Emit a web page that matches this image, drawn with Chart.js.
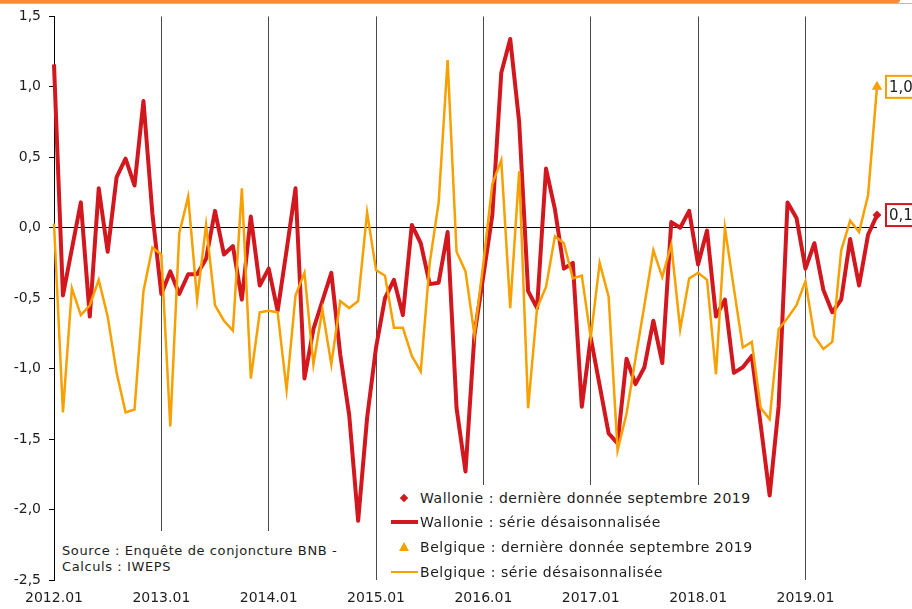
<!DOCTYPE html>
<html>
<head>
<meta charset="utf-8">
<script src="https://cdn.jsdelivr.net/npm/chart.js@4.4.1/dist/chart.umd.min.js"></script>
<style>
  html, body { margin: 0; padding: 0; background: #fff; }
  #wrap { position: relative; width: 912px; height: 609px; overflow: hidden; font-family: 'DejaVu Sans', sans-serif; color: #1d1d1b; }
  #topbar { position: absolute; left: 0; top: 0; width: 900px; height: 3px; background: #f58b35; border-bottom-right-radius: 3px; }
  #topline { position: absolute; left: 0; top: 3px; width: 912px; height: 1px; background: #b9b9b9; }
  #source { position: absolute; left: 56px; top: 531px; width: 292px; height: 49px; background: #fff; font-size: 13px; letter-spacing: 0.6px; line-height: 16px; padding: 12px 0 0 6px; box-sizing: border-box; white-space: nowrap; }
  #legend { position: absolute; left: 386px; top: 485px; width: 374px; height: 96px; background: #fff; font-size: 14px; letter-spacing: 0.55px; }
  .row { position: absolute; left: 0; height: 20px; line-height: 20px; white-space: nowrap; }
  .row span.t { position: absolute; left: 34px; top: 0; }
  .dia { position: absolute; left: 15px; top: 7px; width: 6px; height: 6px; background: #d2171e; transform: rotate(45deg); }
  .tri { position: absolute; left: 13px; top: 5px; width: 0; height: 0; border-left: 5px solid transparent; border-right: 5px solid transparent; border-bottom: 9px solid #f7a000; }
  .ln { position: absolute; left: 5px; width: 27px; }
</style>
</head>
<body>
<div id="wrap">
  <canvas id="chart" width="912" height="609"></canvas>
  <div id="topbar"></div>
  <div id="topline"></div>
  <div id="source">Source : Enquête de conjoncture BNB -<br>Calculs : IWEPS</div>
  <div id="legend">
    <div class="row" style="top:3px"><div class="dia"></div><span class="t">Wallonie : dernière donnée septembre 2019</span></div>
    <div class="row" style="top:27px"><div class="ln" style="top:8px;height:4px;background:#d2171e"></div><span class="t">Wallonie : série désaisonnalisée</span></div>
    <div class="row" style="top:52px"><div class="tri"></div><span class="t">Belgique : dernière donnée septembre 2019</span></div>
    <div class="row" style="top:77px"><div class="ln" style="top:9px;height:2px;background:#f7a000"></div><span class="t">Belgique : série désaisonnalisée</span></div>
  </div>
</div>
<script>
const years = ['2012', '2013', '2014', '2015', '2016', '2017', '2018', '2019'];
const months = ['01', '02', '03', '04', '05', '06', '07', '08', '09', '10', '11', '12'];
const lastMonth = 9; // septembre 2019

const wallonie = [
    1.16, -0.48, -0.15, 0.18, -0.63, 0.28, -0.17, 0.36, 0.49, 0.30, 0.90, 0.10,
    -0.47, -0.31, -0.47, -0.33, -0.33, -0.22, 0.12, -0.19, -0.13, -0.51, 0.08, -0.41,
    -0.29, -0.59, -0.16, 0.28, -1.07, -0.72, -0.52, -0.32, -0.90, -1.33, -2.08, -1.35,
    -0.85, -0.50, -0.37, -0.62, 0.02, -0.11, -0.40, -0.39, -0.03, -1.28, -1.73, -0.76,
    -0.34, 0.09, 1.10, 1.34, 0.75, -0.45, -0.57, 0.42, 0.13, -0.29, -0.25, -1.27,
    -0.78, -1.12, -1.46, -1.53, -0.93, -1.11, -0.99, -0.66, -0.96, 0.04, 0.00, 0.12,
    -0.26, -0.02, -0.63, -0.51, -1.03, -0.99, -0.91, -1.40, -1.90, -1.27, 0.18, 0.07,
    -0.29, -0.11, -0.44, -0.60, -0.51, -0.08, -0.41, -0.05, 0.09,
];

const belgique = [
    0.03, -1.31, -0.43, -0.62, -0.55, -0.37, -0.63, -1.03, -1.31, -1.29, -0.45, -0.14,
    -0.19, -1.41, -0.04, 0.22, -0.51, 0.02, -0.55, -0.66, -0.73, 0.28, -1.07, -0.60,
    -0.59, -0.60, -1.15, -0.48, -0.32, -0.97, -0.58, -0.97, -0.52, -0.57, -0.52, 0.11,
    -0.30, -0.34, -0.71, -0.71, -0.91, -1.02, -0.25, 0.18, 1.19, -0.17, -0.31, -0.76,
    -0.25, 0.31, 0.48, -0.57, 0.40, -1.28, -0.57, -0.42, -0.06, -0.11, -0.36, -0.34,
    -0.78, -0.25, -0.49, -1.58, -1.32, -0.93, -0.55, -0.16, -0.35, -0.12, -0.72, -0.36,
    -0.32, -0.37, -1.04, 0.00, -0.43, -0.85, -0.81, -1.28, -1.36, -0.72, -0.64, -0.55,
    -0.38, -0.77, -0.86, -0.81, -0.16, 0.05, -0.03, 0.23, 1.00,
];

const yTicks = [-2.5, -2.0, -1.5, -1.0, -0.5, 0.0, 0.5, 1.0, 1.5];

const red = '#d2171e';
const orange = '#f7a000';
const ink = '#1d1d1b';

const labels = [];
years.forEach((y, i) => {
    const n = i === years.length - 1 ? lastMonth : 12;
    for (let m = 0; m < n; m++) labels.push(y + '.' + months[m]);
});

const fmt = (v) => v.toFixed(1).replace('.', ',');
const lastOnly = (arr, r) => arr.map((_, i) => (i === arr.length - 1 ? r : 0));

// encadrés de la dernière valeur à droite
const endLabels = {
    id: 'endLabels',
    afterDatasetsDraw(chart) {
        const ctx = chart.ctx;
        chart.data.datasets.forEach((ds, i) => {
            const pts = chart.getDatasetMeta(i).data;
            const p = pts[pts.length - 1];
            const txt = fmt(ds.data[ds.data.length - 1]);
            ctx.save();
            ctx.font = '15px "DejaVu Sans", sans-serif';
            const w = ctx.measureText(txt).width + 8;
            const x = chart.chartArea.right + 9;
            ctx.fillStyle = '#fff';
            ctx.fillRect(x, p.y - 11, w, 22);
            ctx.strokeStyle = ds.borderColor;
            ctx.lineWidth = 2;
            ctx.strokeRect(x, p.y - 11, w, 22);
            ctx.fillStyle = ink;
            ctx.textBaseline = 'middle';
            ctx.fillText(txt, x + 3, p.y + 1);
            ctx.restore();
        });
    },
};

new Chart(document.getElementById('chart'), {
    type: 'line',
    data: {
        labels: labels,
        datasets: [
            {
                label: 'Belgique : série désaisonnalisée',
                data: belgique,
                borderColor: orange,
                backgroundColor: orange,
                borderWidth: 2.5,
                tension: 0,
                pointStyle: 'triangle',
                pointRadius: lastOnly(belgique, 6),
                pointBorderWidth: 0,
                order: 0,
            },
            {
                label: 'Wallonie : série désaisonnalisée',
                data: wallonie,
                borderColor: red,
                backgroundColor: red,
                borderWidth: 4,
                borderJoinStyle: 'round',
                tension: 0,
                pointStyle: 'rectRot',
                pointRadius: lastOnly(wallonie, 4.5),
                pointBorderWidth: 0,
                order: 1,
            },
        ],
    },
    options: {
        responsive: false,
        animation: false,
        layout: { padding: { top: 14, right: 35, left: 0, bottom: 0 } },
        plugins: { legend: { display: false }, tooltip: { enabled: false } },
        scales: {
            x: {
                type: 'category',
                offset: false,
                border: { display: false },
                grid: {
                    drawTicks: false,
                    color: (c) => (c.index > 0 && c.index % 12 === 0 ? '#4a4a4a' : 'transparent'),
                    lineWidth: 1,
                },
                ticks: {
                    autoSkip: false,
                    maxRotation: 0,
                    minRotation: 0,
                    padding: 10,
                    color: ink,
                    font: { family: 'DejaVu Sans', size: 14 },
                    callback: (v, i) => (i % 12 === 0 ? labels[i] : ''),
                },
                afterFit: (s) => { s.height = 29; },
            },
            y: {
                min: -2.5,
                max: 1.5,
                border: { display: true, color: '#000', width: 1 },
                grid: {
                    color: (c) => (c.tick && c.tick.value === 0 ? '#000' : 'transparent'),
                    tickColor: '#000',
                    tickLength: 5,
                    lineWidth: 1,
                },
                afterBuildTicks: (s) => { s.ticks = yTicks.map((v) => ({ value: v })); },
                ticks: {
                    padding: 8,
                    color: ink,
                    font: { family: 'DejaVu Sans', size: 14 },
                    callback: (v) => fmt(v),
                },
                afterFit: (s) => { s.width = 54; },
            },
        },
    },
    plugins: [endLabels],
});
</script>
</body>
</html>
